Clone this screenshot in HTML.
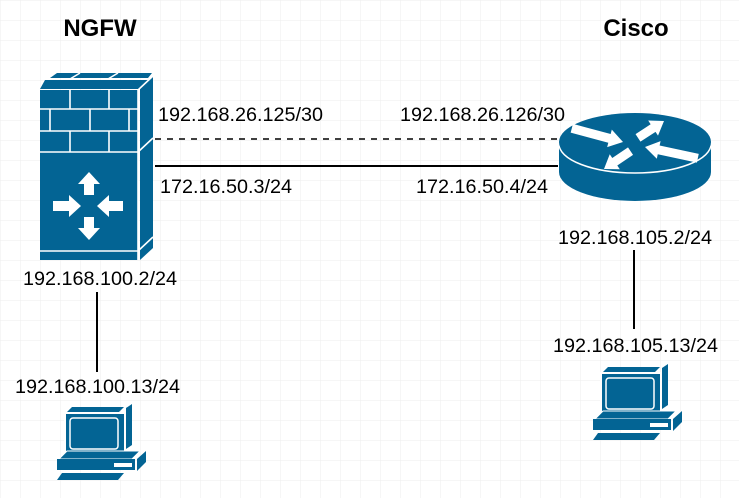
<!DOCTYPE html>
<html><head><meta charset="utf-8"><style>
html,body{margin:0;padding:0;background:#fff}
svg{display:block}
text{font-family:"Liberation Sans",Arial,sans-serif;font-size:19.8px;fill:#000}
</style></head><body>
<svg width="739" height="498" viewBox="0 0 739 498" xmlns="http://www.w3.org/2000/svg">
<defs>
<pattern id="g" width="20" height="20" patternUnits="userSpaceOnUse">
<path d="M20 0H0V20" fill="none" stroke="#ededed" stroke-width="1"/>
</pattern>
<g id="pc">
<polygon points="10,0 62,0 56,6 4,6" fill="#036494"/>
<polygon points="64,1 70,-3 70,38 64,42" fill="#036494"/>
<rect x="3" y="6" width="60" height="42" fill="#036494" stroke="#fff" stroke-width="2"/>
<rect x="8" y="11" width="48" height="31" rx="3" fill="#036494" stroke="#fff" stroke-width="1.5"/>
<polygon points="5,44 78,44 70,52 -3,52" fill="#036494" stroke="#fff" stroke-width="1"/>
<polygon points="75,52 84,44 84,55 75,64" fill="#036494"/>
<rect x="-5" y="52" width="78" height="11" fill="#036494"/>
<rect x="52" y="56" width="18" height="4" fill="#fff"/>
<polygon points="0,66 62,66 56,73 -5,73" fill="#036494"/>
</g>
</defs>
<rect width="739" height="498" fill="url(#g)"/>

<text x="100" y="36" text-anchor="middle" font-weight="bold" style="font-size:24px">NGFW</text>
<text x="636" y="36" text-anchor="middle" font-weight="bold" style="font-size:24px">Cisco</text>

<g fill="#036494">
<polygon points="57,73 152,73 148,78 50,78"/>
<polygon points="45,80 150,80 140,89 40,89"/>
<polygon points="140,89 153,76 153,248 140,260"/>
<rect x="40" y="90" width="98" height="170"/>
</g>
<g stroke="#fff" stroke-width="1.6" fill="none">
<line x1="40" y1="109" x2="138" y2="109"/>
<line x1="40" y1="131" x2="138" y2="131"/>
<line x1="40" y1="152" x2="138" y2="152"/>
<line x1="40" y1="251" x2="138" y2="251"/>
<line x1="70" y1="90" x2="70" y2="109"/><line x1="109" y1="90" x2="109" y2="109"/>
<line x1="50" y1="109" x2="50" y2="131"/><line x1="90" y1="109" x2="90" y2="131"/><line x1="129" y1="109" x2="129" y2="131"/>
<line x1="70" y1="131" x2="70" y2="152"/><line x1="109" y1="131" x2="109" y2="152"/>
<line x1="138" y1="90" x2="138" y2="260"/>
<line x1="138" y1="90" x2="153" y2="76"/>
<line x1="138" y1="152" x2="153" y2="138"/>
<line x1="138" y1="251" x2="153" y2="237"/>
<line x1="70" y1="79" x2="80" y2="73"/><line x1="108" y1="79" x2="118" y2="73"/>
</g>
<g fill="#fff">
<polygon points="89,172 100,184 94,184 94,195 84,195 84,184 78,184"/>
<polygon points="89,240 100,228 94,228 94,217 84,217 84,228 78,228"/>
<polygon points="81,206 69,195 69,201 53,201 53,211 69,211 69,217"/>
<polygon points="97,206 109,195 109,201 123,201 123,211 109,211 109,217"/>
</g>

<path d="M559 144 L559 172 A76 29 0 0 0 711 172 L711 144 Z" fill="#036494"/>
<ellipse cx="635" cy="144" rx="76" ry="29" fill="#036494" stroke="#fff" stroke-width="1.5"/>
<ellipse cx="635" cy="142" rx="76" ry="29" fill="#036494"/>
<g fill="#fff">
<path transform="translate(623,142) rotate(15)" d="M0,0 L-14,-9 L-14,-4.5 L-53,-4.5 L-53,4.5 L-14,4.5 L-14,9 Z"/>
<path transform="translate(664,121) rotate(-33)" d="M0,0 L-13,-9 L-13,-4.5 L-31,-4.5 L-31,4.5 L-13,4.5 L-13,9 Z"/>
<path transform="translate(645,147) rotate(192)" d="M0,0 L-14,-9 L-14,-4.5 L-54,-4.5 L-54,4.5 L-14,4.5 L-14,9 Z"/>
<path transform="translate(604,169) rotate(146)" d="M0,0 L-13,-9 L-13,-4.5 L-32,-4.5 L-32,4.5 L-13,4.5 L-13,9 Z"/>
</g>

<line x1="155" y1="139" x2="558" y2="139" stroke="#000" stroke-width="1.5" stroke-dasharray="6,6"/>
<line x1="155" y1="166" x2="558" y2="166" stroke="#000" stroke-width="2"/>
<line x1="97" y1="292" x2="97" y2="372" stroke="#000" stroke-width="2"/>
<line x1="634" y1="250" x2="634" y2="329" stroke="#000" stroke-width="2"/>

<text x="158" y="121">192.168.26.125/30</text>
<text x="400" y="121">192.168.26.126/30</text>
<text x="160" y="193">172.16.50.3/24</text>
<text x="416" y="193">172.16.50.4/24</text>
<text x="23" y="285">192.168.100.2/24</text>
<text x="558" y="244">192.168.105.2/24</text>
<text x="15" y="393">192.168.100.13/24</text>
<text x="553" y="352">192.168.105.13/24</text>

<use href="#pc" x="62" y="407"/>
<use href="#pc" x="598" y="367"/>
</svg>
</body></html>
